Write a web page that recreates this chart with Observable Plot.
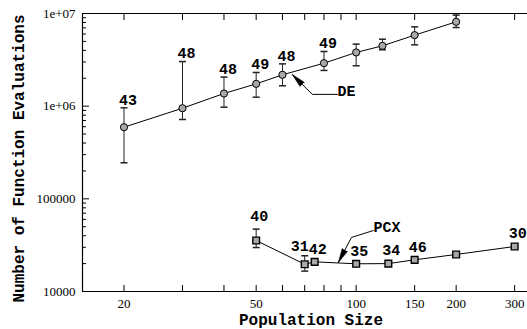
<!DOCTYPE html>
<html><head><meta charset="utf-8">
<script src="https://cdn.jsdelivr.net/npm/d3@7"></script>
<script src="https://cdn.jsdelivr.net/npm/@observablehq/plot@0.6"></script>
<style>body{margin:0;background:#fff}#chart{width:527px;height:329px}</style>
</head><body><div id="chart"></div>
<script>
// ---- data ----
const dePop   = [20, 30, 40, 50, 60, 80, 100, 120, 150, 200];
const deEvals = [593000, 950000, 1370000, 1740000, 2180000, 2910000, 3800000, 4480000, 5840000, 8130000];
const deHigh  = [960000, 3030000, 2060000, 2310000, 2860000, 3890000, 4670000, 5280000, 7180000, 9600000];
const deLow   = [245000, 718000, 975000, 1250000, 1660000, 2430000, 2730000, 4060000, 4590000, 7060000];
const deRuns  = ["43", "48", "48", "49", "48", "49", "", "", "", ""];

const pcxPop   = [50, 70, 75, 100, 125, 150, 200, 300];
const pcxEvals = [35500, 19700, 20900, 19900, 20000, 21970, 25100, 30600];
const pcxHigh  = [47100, 24300, null, null, null, null, null, null];
const pcxLow   = [29800, 16600, null, null, null, null, null, null];
const pcxRuns  = ["40", "31", "42", "35", "34", "46", "", "30"];

const xTicks = [20, 30, 40, 50, 60, 70, 80, 90, 100, 150, 200, 300];
const xTickLabels = ["20", "", "", "50", "", "", "", "", "100", "150", "200", "300"];
const yTicks = [10000, 100000, 1000000, 10000000];
const yTickLabels = ["10000", "100000", "1e+06", "1e+07"];
const xDomain = [15, 328];
const yDomain = [10000, 10000000];

const xTitle = "Population Size";
const yTitle = "Number of Function Evaluations";

// annotation leader lines (data coordinates): end near text, elbow, tip
const deNoteX = [87.8, 73.8, 64.2];
const deNoteY = [1340000, 1340000, 2200000];
const deNoteText = "DE";
const deNoteTextY = 1440000;
const pcxNoteX = [112.7, 96.8, 88.4];
const pcxNoteY = [45500, 38300, 20600];
const pcxNoteText = "PCX";
const pcxNoteTextY = 49100;

// ---- build tables ----
const de = dePop.map((p, i) => ({pop: p, evals: deEvals[i], hi: deHigh[i], lo: deLow[i], runs: deRuns[i], i}));
const pcx = pcxPop.map((p, i) => ({pop: p, evals: pcxEvals[i], hi: pcxHigh[i], lo: pcxLow[i], runs: pcxRuns[i], i}));
const caps = [...de, ...pcx].filter(d => d.hi != null).flatMap(d => [{pop: d.pop, v: d.hi}, {pop: d.pop, v: d.lo}]);
const yMinor = [];
for (let e = 4; e < 7; e++) for (let m = 2; m <= 9; m++) yMinor.push(m * Math.pow(10, e));
const xLabelMap = new Map(xTicks.map((t, i) => [t, xTickLabels[i]]));
const yLabelMap = new Map(yTicks.map((t, i) => [t, yTickLabels[i]]));
const deNote = deNoteX.map((x, i) => ({x, y: deNoteY[i]}));
const pcxNote = pcxNoteX.map((x, i) => ({x, y: pcxNoteY[i]}));

const capSymbol = {draw(ctx, size) { const w = Math.sqrt(size / Math.PI); ctx.moveTo(-w, 0); ctx.lineTo(w, 0); }};
const mono = {fontFamily: "Liberation Mono", fontWeight: "bold", fill: "black"};
const pcxLabelled = pcx.filter(d => d.runs);

const plot = Plot.plot({
  width: 527, height: 329,
  marginLeft: 82, marginRight: 0, marginTop: 13, marginBottom: 38,
  style: {fontFamily: "Liberation Serif", fontSize: "13px", background: "white", color: "black", overflow: "visible"},
  x: {type: "log", domain: xDomain, axis: null},
  y: {type: "log", domain: yDomain, axis: null},
  marks: [
    Plot.ruleX([xDomain[0]], {stroke: "black", strokeWidth: 1.2}),
    Plot.ruleY(yDomain, {stroke: "black", strokeWidth: 1.2}),
    Plot.axisX(xTicks, {anchor: "bottom", tickSize: -6, tickPadding: 13, tickFormat: d => xLabelMap.get(d), label: null, fontSize: 13}),
    Plot.axisX(xTicks, {anchor: "top", tickSize: -6, tickFormat: () => "", label: null}),
    Plot.axisY(yTicks, {anchor: "left", tickSize: -7, tickPadding: 14, tickFormat: d => yLabelMap.get(d), label: null, fontSize: 13}),
    Plot.axisY(yMinor, {anchor: "left", tickSize: -4, tickFormat: () => "", label: null}),
    // error bars
    Plot.ruleX([...de, ...pcx].filter(d => d.hi != null), {x: "pop", y1: "lo", y2: "hi", stroke: "#222"}),
    Plot.dot(caps, {x: "pop", y: "v", r: 3.5, symbol: capSymbol, stroke: "#222", fill: "none"}),
    // series
    Plot.line(de, {x: "pop", y: "evals", stroke: "black", strokeWidth: 1}),
    Plot.line(pcx, {x: "pop", y: "evals", stroke: "black", strokeWidth: 1}),
    Plot.dot(de, {x: "pop", y: "evals", r: 3.6, fill: "#a8a8a8", stroke: "black", strokeWidth: 1}),
    Plot.dot(pcx, {x: "pop", y: "evals", r: 3.8, symbol: "square", fill: "#a8a8a8", stroke: "black", strokeWidth: 1.4}),
    // run counts
    Plot.text(de.filter(d => d.runs), {x: "pop", y: d => d.hi ?? d.evals, text: "runs", dx: 4, dy: -8, fontSize: 15, ...mono}),
    Plot.text(pcxLabelled.filter(d => d.i !== 1), {x: "pop", y: d => d.hi ?? d.evals, text: "runs", dx: 3, dy: -13, fontSize: 15, ...mono}),
    Plot.text(pcxLabelled.filter(d => d.i === 1), {x: "pop", y: d => d.hi ?? d.evals, text: "runs", textAnchor: "end", dx: 4, dy: -10, fontSize: 15, ...mono}),
    // annotations
    Plot.line(deNote, {x: "x", y: "y", stroke: "black", strokeWidth: 1}),
    Plot.vector([deNote[2]], {x: "x", y: "y", anchor: "end", length: 14, rotate: -45, shape: "spike", r: 3, fill: "black", stroke: "black", strokeWidth: 0.5}),
    Plot.text([deNoteText], {x: deNoteX[0], y: deNoteTextY, textAnchor: "start", fontSize: 15, ...mono}),
    Plot.line(pcxNote, {x: "x", y: "y", stroke: "black", strokeWidth: 1}),
    Plot.vector([pcxNote[2]], {x: "x", y: "y", anchor: "end", length: 14, rotate: -152.5, shape: "spike", r: 3, fill: "black", stroke: "black", strokeWidth: 0.5}),
    Plot.text([pcxNoteText], {x: pcxNoteX[0], y: pcxNoteTextY, textAnchor: "start", fontSize: 15, ...mono}),
    // axis titles
    Plot.text([xTitle], {frameAnchor: "bottom", lineAnchor: "middle", textAnchor: "middle", dy: 28, dx: 6, fontSize: 16, ...mono}),
    Plot.text([yTitle], {frameAnchor: "left", lineAnchor: "middle", textAnchor: "middle", rotate: -90, dx: -64, dy: 6, fontSize: 16, ...mono})
  ]
});
document.getElementById("chart").appendChild(plot);
</script>
</body></html>
